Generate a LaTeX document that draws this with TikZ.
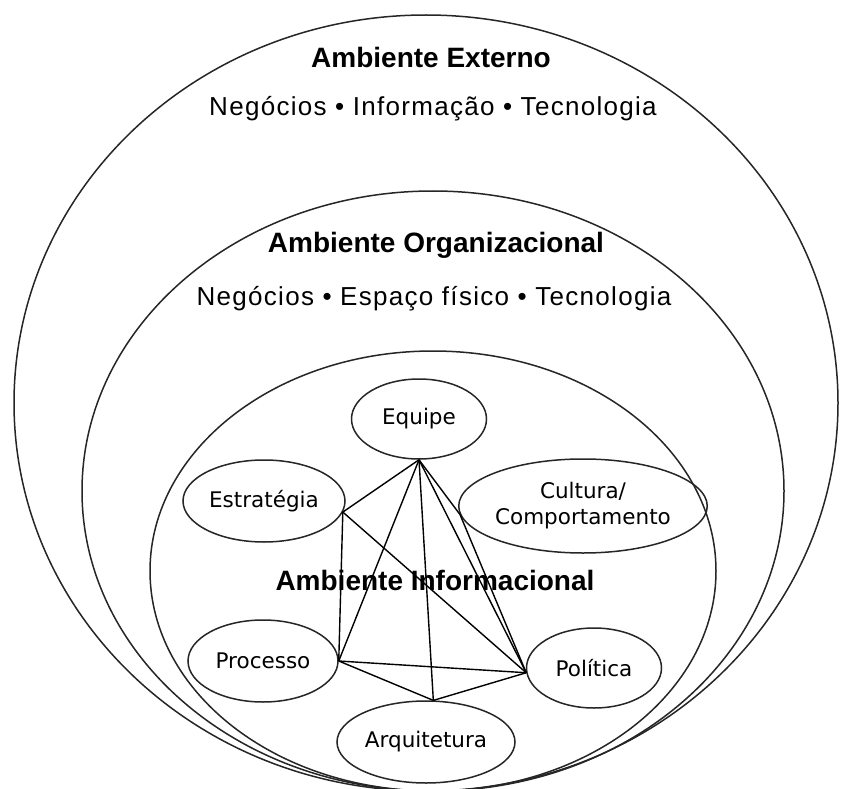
\documentclass[tikz,border=0pt]{standalone}
\usepackage{fontspec}
\setmainfont{Liberation Sans}
\newfontfamily\itemfont[LetterSpace=5]{Liberation Sans}
\newfontfamily\labelfont{DejaVu Sans}
\usetikzlibrary{shapes.geometric}

\tikzset{
  envline/.style={draw=black!85, line width=1.5pt},
  envtitle/.style={font=\bfseries\fontsize{28}{34}\selectfont, inner sep=0pt},
  envitems/.style={font=\itemfont\fontsize{26}{32}\selectfont, inner sep=0pt},
  facet/.style={ellipse, draw=black!85, line width=1.5pt, inner sep=0pt,
    font=\labelfont\fontsize{21.5}{27}\selectfont, align=center},
  link/.style={draw=black, line width=1.4pt}
}

\begin{document}
\begin{tikzpicture}[x=1pt, y=-1pt]
  \useasboundingbox (0,0) rectangle (841,789);
  \fill[white] (0,0) rectangle (841,789);

  % nested environments
  \draw[envline] (426,403) ellipse [x radius=412pt, y radius=388pt];
  \draw[envline] (433,491) ellipse [x radius=351pt, y radius=300pt];
  \draw[envline] (433,571) ellipse [x radius=283pt, y radius=220pt];

  % facets of the informational environment
  \node[facet, minimum width=135pt, minimum height=80pt] (equipe) at (419,419) {Equipe};
  \node[facet, minimum width=162pt, minimum height=82pt] (estrat) at (264,501) {Estratégia};
  \node[facet, minimum width=218pt, minimum height=94pt] (cult)   at (583,506) {Cultura/\\[-1pt]Comportamento};
  \node[facet, minimum width=150pt, minimum height=82pt] (proc)   at (263,661) {Processo};
  \node[facet, minimum width=135pt, minimum height=80pt] (pol)    at (594,668) {Política};
  \node[facet, minimum width=178pt, minimum height=82pt] (arq)    at (426,742) {Arquitetura};

  % relations between facets
  \draw[link] (equipe.south) -- (estrat.-8);
  \draw[link] (equipe.south) -- (proc.east);
  \draw[link] (equipe.south) -- (arq.80);
  \draw[link] (equipe.south) -- (pol.184);
  \draw[link] (equipe.south) -- (cult.184);
  \draw[link] (cult.184) -- (pol.184);
  \draw[link] (estrat.-8) -- (proc.east);
  \draw[link] (estrat.-8) -- (pol.184);
  \draw[link] (proc.east) -- (pol.184);
  \draw[link] (proc.east) -- (arq.80);
  \draw[link] (arq.80) -- (pol.184);

  % environment labels
  \node[envtitle] (extT) at (431,57) {Ambiente Externo};
  \node[envitems] (extI) at (433,109) {Negócios • Informação • Tecnologia};
  \node[envtitle] (orgT) at (436,245) {Ambiente Organizacional};
  \node[envitems] (orgI) at (434,299) {Negócios • Espaço físico • Tecnologia};
  \node[envtitle] (infT) at (435,580) {Ambiente Informacional};
\end{tikzpicture}
\end{document}
